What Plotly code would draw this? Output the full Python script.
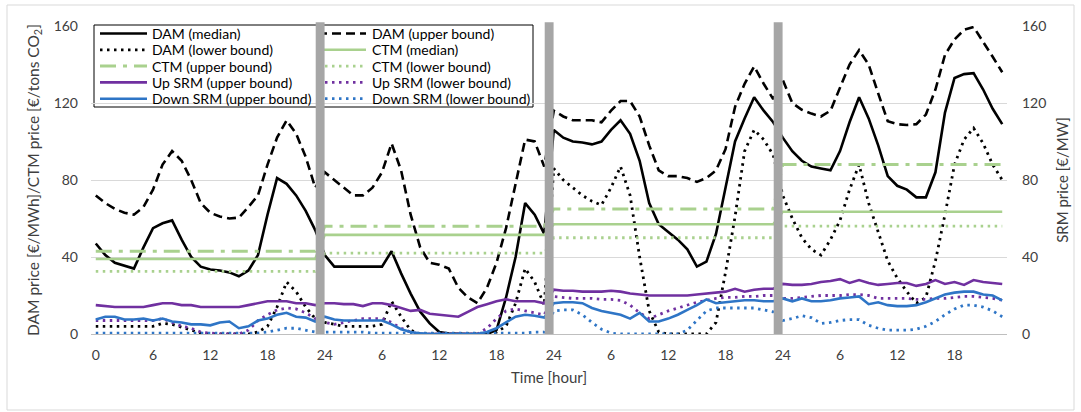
import plotly.graph_objects as go

hours = list(range(96))
tick_vals = [0, 6, 12, 18, 24, 30, 36, 42, 48, 54, 60, 66, 72, 78, 84, 90]
tick_text = ["0", "6", "12", "18", "24", "6", "12", "18", "24", "6", "12", "18", "24", "6", "12", "18"]
separators = [23, 47, 71]

dam_median = [47, 41, 37, 35.5, 34, 45, 55, 57.5, 59, 49, 40, 35, 33.5, 33, 32, 30, 33, 41, 62, 81, 78, 72, 64, 54,
              41, 35, 35, 35, 35, 35, 35, 43, 31.5, 21, 11.6, 5.5, 1, 0.2, 0, 0, 0, 0, 2, 19, 40, 68, 62, 52,
              106, 102, 100, 99.5, 98.5, 100, 106, 111, 104, 90, 68, 57, 53, 49, 44, 35, 37.6, 52, 76, 100, 112, 123, 116, 110,
              102, 95, 90, 87, 86, 85, 95, 110, 123, 112, 98, 82, 77, 75, 71, 71, 84, 115, 133, 135, 135.5, 127, 117, 109]
dam_upper = [72, 68, 65, 63, 62, 66, 75, 88, 95, 90, 80, 68, 63, 61, 60, 60.5, 66, 72, 88, 102, 111, 104, 92, 76,
             84, 80, 76, 72, 72, 76, 84, 99, 85, 62, 45, 37, 36, 34, 24, 19, 16, 24, 37, 55, 78, 101, 100, 87,
             116, 113, 111, 111, 111, 110, 116, 121, 121, 113, 98, 85, 82, 82, 81, 79, 81, 85, 96, 118, 130, 139, 130, 122,
             132, 120, 116.5, 114.5, 113, 116, 128.5, 140, 147.5, 140, 125, 110.5, 109, 108.6, 109, 114, 127, 145, 153, 158, 159.5, 152, 144, 136]
dam_lower = [4, 4, 4, 4, 4, 4, 4, 5.5, 5, 3.5, 2, 0.5, 0, 0, 0, 0, 0, 1, 4, 14, 27, 22, 14, 8,
             6, 5, 4, 4, 4, 4, 5, 17, 9, 2, 0, 0, 0, 0, 0, 0, 0, 0, 1, 4, 16, 34, 27, 15,
             86, 80, 76, 72, 69, 67, 76, 87, 72, 40, 12, 1, 0, 0, 0, 0, 0, 6, 32, 61, 95, 106, 101, 93,
             72, 60, 50, 44, 41, 49, 59, 75, 88, 68, 53, 38, 29, 22, 16, 19, 38, 62, 88, 101, 107, 99, 88, 80]

ctm_median_day = [39, 51.5, 57, 63.5]
ctm_upper_day = [43, 56, 65, 88]
ctm_lower_day = [32.5, 42, 50, 56]

up_srm_upper = [15, 14.5, 14, 14, 14, 14, 15, 16, 16, 15, 15, 14, 14, 14, 14, 14, 15, 16, 17, 17, 17, 16, 16, 15,
                16, 16, 15.5, 15.5, 14.5, 16, 16, 15, 13.5, 12, 12.5, 10.5, 10, 9.5, 9, 11.5, 14, 15.5, 17, 18, 17, 17, 17, 16,
                23, 22.5, 22.5, 22, 22, 22, 22.5, 22, 21, 20.5, 20, 20, 20, 20, 20, 20.5, 21, 21.5, 22, 23.5, 22, 23, 23.5, 23.5,
                26, 25.5, 25.5, 26, 27, 27.5, 28.5, 26.5, 28, 26.5, 25.5, 26, 26.5, 26.5, 25, 26, 28, 26, 27, 25.5, 28, 27, 26.5, 26]
up_srm_lower = [7, 7, 7, 7, 7, 7, 7, 8, 6, 4, 3, 1, 0.5, 0, 0, 0, 2, 7, 10, 12.5, 13.5, 13, 11, 8,
                6, 5, 6, 7, 8, 8, 8, 6, 3, 1, 0, 0, 0, 0, 0, 0, 0, 3, 8, 12, 13, 12, 11, 10,
                19.5, 19, 18.5, 18.5, 18.5, 18, 18, 17.5, 15, 11, 8, 10, 12, 13.5, 15, 16.5, 17.5, 18.5, 19, 19, 19.5, 19.5, 20, 20,
                18.5, 18.5, 19, 19.5, 20, 20, 20, 20.5, 20.5, 20, 18.5, 18.5, 18.5, 18.5, 18, 18, 18.5, 18.5, 19, 19.5, 19.5, 19, 18.5, 17.5]
down_srm_upper = [7.5, 9, 9, 7.5, 7.5, 8, 7, 8, 6.5, 6, 5, 5, 4.5, 6, 6.5, 3, 4, 7, 8, 10, 11, 9, 8.5, 6.5,
                  9, 7.5, 7, 7, 7, 7, 7, 5, 2.5, 1, 0.3, 0, 0, 0, 0, 0, 0, 1, 3, 6, 9, 10, 9.5, 8.5,
                  16, 16.5, 16.5, 16, 13.5, 12, 11, 10, 8, 11, 6.5, 6.5, 8, 10, 12.5, 15, 18, 16, 16.5, 17, 17.5, 17.5, 17, 17,
                  18.5, 17, 18.5, 17, 17, 17.5, 18.5, 19, 19.5, 15.5, 16.5, 15, 14.5, 14.5, 15, 16.5, 18.5, 20.5, 21.5, 22, 22, 20.5, 20, 17.5]
down_srm_lower = [0.5, 0.5, 0.5, 0.5, 0.5, 0.5, 0.5, 0.5, 0.5, 0.5, 0.5, 0.5, 0.5, 0.5, 0.5, 0.5, 0.5, 0.5, 1, 2, 3, 3, 2, 1,
                  1, 1, 1, 1, 1, 0.5, 0.5, 0.5, 0.5, 0.5, 0.5, 0.5, 0.5, 0.5, 0.5, 0.5, 0.5, 0.5, 0.5, 0.5, 0.5, 0.5, 1, 1,
                  12, 12.5, 12.5, 10, 6, 2.5, 0.5, 0, 0, 0, 0, 0, 0, 0, 2, 7, 12, 13.5, 13.5, 13.5, 13.5, 13.5, 12.5, 11.5,
                  7, 8, 9.5, 8.5, 5.5, 6, 7, 7.5, 7.5, 4.5, 3, 2, 2, 2, 2.5, 4, 6.5, 10, 13, 15, 15, 14, 12, 9]


def per_hour(day_values):
    out = []
    for v in day_values:
        out += [v] * 24
    return out


BLACK = "#000000"
GREEN = "#A9D18E"
PURPLE = "#7030A0"
BLUE = "#2E75C6"
DOT = "2.5px,4.5px"

# name, y, color, dash, width, yaxis, legend column, legend row
series = [
    ("DAM (median)", dam_median, BLACK, "solid", 2.6, "y", 0, 0),
    ("DAM (upper bound)", dam_upper, BLACK, "9px,5px", 2.6, "y", 1, 0),
    ("DAM (lower bound)", dam_lower, BLACK, DOT, 2.8, "y", 0, 1),
    ("CTM (median)", per_hour(ctm_median_day), GREEN, "solid", 2.6, "y", 1, 1),
    ("CTM (upper bound)", per_hour(ctm_upper_day), GREEN, "16px,7px,4px,7px", 3, "y", 0, 2),
    ("CTM (lower bound)", per_hour(ctm_lower_day), GREEN, DOT, 2.8, "y", 1, 2),
    ("Up SRM (upper bound)", up_srm_upper, PURPLE, "solid", 2.6, "y2", 0, 3),
    ("Up SRM (lower bound)", up_srm_lower, PURPLE, DOT, 2.8, "y2", 1, 3),
    ("Down SRM (upper bound)", down_srm_upper, BLUE, "solid", 2.6, "y2", 0, 4),
    ("Down SRM (lower bound)", down_srm_lower, BLUE, DOT, 2.8, "y2", 1, 4),
]

# plot-area geometry in pixels (used only to place the legend box)
PL, PR, PT, PB = 91, 1007, 26, 334


def px_x(x):
    return (x - PL) / (PR - PL)


def px_y(y):
    return (PB - y) / (PB - PT)


fig = go.Figure()
shapes = []
annotations = []

# legend frame
shapes.append(dict(type="rect", xref="paper", yref="paper", x0=px_x(94), x1=px_x(533), y0=px_y(107), y1=px_y(25),
                   fillcolor="white", line=dict(color="black", width=1), layer="between"))

col_sample = [(100, 147, 150), (318, 366, 370)]
for name, y, color, dash, width, yax, col, row in series:
    fig.add_trace(go.Scatter(x=hours, y=y, name=name, mode="lines", yaxis=yax, showlegend=False,
                             line=dict(color=color, dash=dash, width=width)))
    ry = 33.5 + 16.3 * row
    s0, s1, tx = col_sample[col]
    shapes.append(dict(type="line", xref="paper", yref="paper", x0=px_x(s0), x1=px_x(s1),
                       y0=px_y(ry), y1=px_y(ry), line=dict(color=color, dash=dash, width=width), layer="above"))
    annotations.append(dict(xref="paper", yref="paper", x=px_x(tx), y=px_y(ry), text=name, showarrow=False,
                            xanchor="left", yanchor="middle", font=dict(size=14, color="black")))

for s in separators:
    shapes.append(dict(type="rect", xref="x", yref="paper", x0=s + 0.05, x1=s + 0.98, y0=0, y1=1.012,
                       fillcolor="#A6A6A6", line=dict(width=0), layer="above"))
# outer chart border
shapes.append(dict(type="rect", xref="paper", yref="paper", x0=px_x(7), x1=px_x(1074), y0=px_y(410), y1=px_y(5),
                   fillcolor="rgba(0,0,0,0)", line=dict(color="#D9D9D9", width=1), layer="below"))

FONT = "Lato, 'Open Sans', sans-serif"
fig.update_layout(
    width=1081, height=412,
    margin=dict(l=PL, r=1081 - PR, t=PT, b=412 - PB),
    paper_bgcolor="white", plot_bgcolor="white",
    font=dict(family=FONT, size=14, color="#404040"),
    shapes=shapes, annotations=annotations, showlegend=False,
    xaxis=dict(range=[-0.5, 95.5], tickmode="array", tickvals=tick_vals, ticktext=tick_text,
               showgrid=False, zeroline=False, showline=True, linecolor="#BFBFBF", linewidth=1,
               ticks="", ticklabelstandoff=8, tickfont=dict(size=14, color="#404040"),
               title=dict(text="Time [hour]", font=dict(size=15, color="#404040"), standoff=10)),
    yaxis=dict(range=[0, 160], dtick=40, tick0=0, showgrid=True, gridcolor="#D9D9D9", gridwidth=1,
               zeroline=False, showline=False, ticks="", ticklabelstandoff=12,
               tickfont=dict(size=14, color="#404040"),
               title=dict(text="DAM price [€/MWh]/CTM price [€/tons CO<sub>2</sub>]",
                          font=dict(size=15.5, color="#404040"), standoff=10)),
    yaxis2=dict(range=[0, 160], dtick=40, tick0=0, overlaying="y", side="right", showgrid=False,
                zeroline=False, showline=False, ticks="", ticklabelstandoff=14,
                tickfont=dict(size=14, color="#404040"),
                title=dict(text="SRM price [€/MW]", font=dict(size=15, color="#404040"), standoff=12)),
)

fig.write_html("out.html")
